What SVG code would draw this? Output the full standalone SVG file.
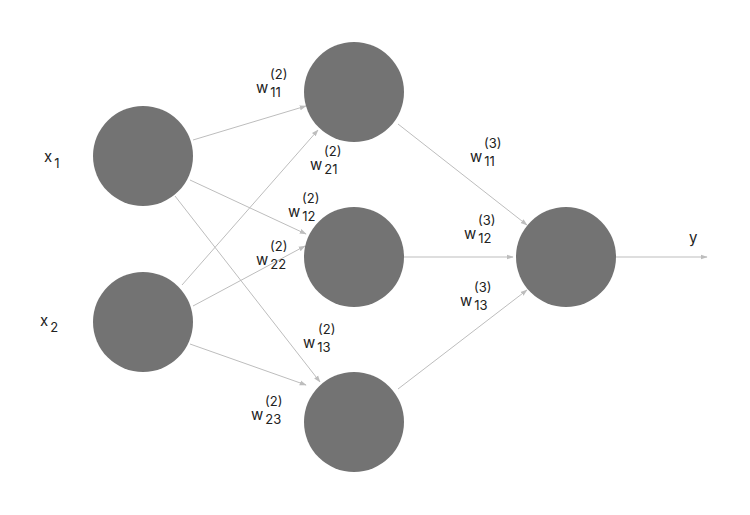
<svg xmlns="http://www.w3.org/2000/svg" width="750" height="515" viewBox="0 0 750 515">
<style>
.n{fill:#737373}
.e{stroke:#bdbdbd;stroke-width:1;fill:none;marker-end:url(#a)}
text{font-family:Inter,"Noto Sans",sans-serif;font-size:13px;fill:#222}
.w{font-size:15px}
.b{font-size:13px}
</style>
<defs>
<marker id="a" viewBox="0 0 10 10" refX="9" refY="5" markerWidth="7" markerHeight="7" orient="auto" markerUnits="userSpaceOnUse">
<path d="M0,1.5 L10,5 L0,8.5 z" fill="#bdbdbd"/>
</marker>
</defs>
<rect width="750" height="515" fill="#fff"/>
<g id="connectors">
<line class="e" x1="193" y1="140" x2="306" y2="106"/>
<line class="e" x1="190" y1="180" x2="306" y2="234"/>
<line class="e" x1="175" y1="196" x2="320" y2="382"/>
<line class="e" x1="182" y1="285" x2="318" y2="130"/>
<line class="e" x1="193" y1="306" x2="305" y2="246"/>
<line class="e" x1="190" y1="344" x2="306" y2="385"/>
<line class="e" x1="398" y1="124" x2="527" y2="225"/>
<line class="e" x1="404" y1="257" x2="513" y2="257"/>
<line class="e" x1="398" y1="389" x2="527" y2="290"/>
<line class="e" x1="616" y1="257" x2="707" y2="257"/>
</g>
<g id="x1"><circle class="n" cx="143" cy="156" r="50"/><text class="w" x="44" y="162">x<tspan class="b" dx="2" dy="6">1</tspan></text></g>
<g id="x2"><circle class="n" cx="143" cy="322" r="50"/><text class="w" x="40" y="326">x<tspan class="b" dx="2" dy="6">2</tspan></text></g>
<g id="h1"><circle class="n" cx="354" cy="92" r="50"/></g>
<g id="h2"><circle class="n" cx="354" cy="257" r="50"/></g>
<g id="h3"><circle class="n" cx="354" cy="422" r="50"/></g>
<g id="out"><circle class="n" cx="566" cy="257" r="50"/><text class="w" x="689" y="243">y</text></g>
<g id="labels">
<text x="270" y="79">(2)</text><text class="w" x="256" y="93">w<tspan class="b" dx="2" dy="4">11</tspan></text>
<text x="324" y="156">(2)</text><text class="w" x="310" y="170">w<tspan class="b" dx="2" dy="4">21</tspan></text>
<text x="302" y="203">(2)</text><text class="w" x="288" y="217">w<tspan class="b" dx="2" dy="4">12</tspan></text>
<text x="270" y="251">(2)</text><text class="w" x="256" y="265">w<tspan class="b" dx="2" dy="4">22</tspan></text>
<text x="318" y="334">(2)</text><text class="w" x="303" y="348">w<tspan class="b" dx="2" dy="4">13</tspan></text>
<text x="265" y="406">(2)</text><text class="w" x="251" y="420">w<tspan class="b" dx="2" dy="4">23</tspan></text>
<text x="484" y="148">(3)</text><text class="w" x="470" y="162">w<tspan class="b" dx="2" dy="4">11</tspan></text>
<text x="478" y="225">(3)</text><text class="w" x="464" y="239">w<tspan class="b" dx="2" dy="4">12</tspan></text>
<text x="474" y="292">(3)</text><text class="w" x="460" y="306">w<tspan class="b" dx="2" dy="4">13</tspan></text>
</g>
</svg>
